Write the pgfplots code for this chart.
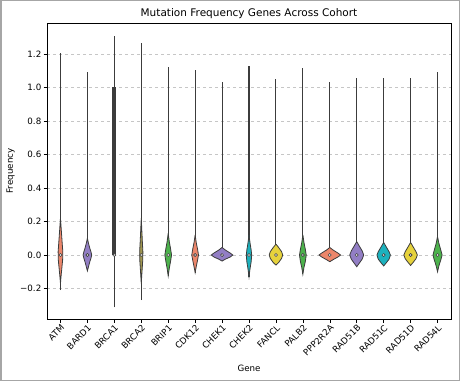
\documentclass[border=0pt]{standalone}
\usepackage{fontspec}
\setmainfont{DejaVu Sans}
\usepackage{pgfplots}
\pgfplotsset{compat=1.18}
\definecolor{csal}{RGB}{236,134,106}
\definecolor{cpur}{RGB}{146,126,196}
\definecolor{colive}{RGB}{160,150,80}
\definecolor{cgreen}{RGB}{76,178,76}
\definecolor{cteal}{RGB}{28,178,190}
\definecolor{cyel}{RGB}{230,210,60}
\definecolor{dline}{RGB}{60,60,60}
\begin{document}
\begin{tikzpicture}
\useasboundingbox (0pt,0pt) rectangle (460pt,381pt);
\draw[gray!70, line width=1.5pt] (0.75pt,0.75pt) rectangle (459.25pt,380.25pt);
\begin{axis}[
  at={(47pt,62pt)}, anchor=south west,
  scale only axis, width=404pt, height=296pt,
  xmin=-0.5, xmax=14.5, ymin=-0.382, ymax=1.385,
  xtick={0,...,14},
  xticklabels={ATM,BARD1,BRCA1,BRCA2,BRIP1,CDK12,CHEK1,CHEK2,FANCL,PALB2,PPP2R2A,RAD51B,RAD51C,RAD51D,RAD54L},
  ytick={-0.2,0,0.2,0.4,0.6,0.8,1.0,1.2},
  yticklabels={−0.2,0.0,0.2,0.4,0.6,0.8,1.0,1.2},
  tick label style={font=\fontsize{8.7}{10}\selectfont},
  xticklabel style={rotate=45, anchor=north east, inner sep=1pt},
  yticklabel style={inner sep=2pt},
  tick align=outside, major tick length=3.5pt,
  tick style={black, line width=0.6pt},
  xtick pos=bottom, ytick pos=left,
  axis line style={black, line width=0.6pt},
  ymajorgrids, grid style={dashed, gray!45, line width=0.5pt},
  title={Mutation Frequency Genes Across Cohort},
  title style={font=\fontsize{10.5}{12}\selectfont, at={(0.5,1)}, anchor=south, yshift=-5pt},
  xlabel={Gene}, ylabel={Frequency},
  label style={font=\fontsize{8.7}{10}\selectfont},
  xlabel style={at={(axis description cs:0.5,-0.166)}, anchor=center},
  ylabel style={at={(axis description cs:-0.09,0.5)}, anchor=center},
  clip=false,
]
% tails / whiskers
\addplot[dline, line width=1.1pt] coordinates {(0,-0.209) (0,1.208)};
\addplot[dline, line width=1.1pt] coordinates {(1,-0.096) (1,1.094)};
\addplot[dline, line width=1.1pt] coordinates {(2,-0.312) (2,1.309)};
\addplot[dline, line width=1.1pt] coordinates {(3,-0.269) (3,1.264)};
\addplot[dline, line width=1.1pt] coordinates {(4,-0.125) (4,1.124)};
\addplot[dline, line width=1.1pt] coordinates {(5,-0.105) (5,1.104)};
\addplot[dline, line width=1.1pt] coordinates {(6,-0.036) (6,1.035)};
\addplot[dline, line width=1.1pt] coordinates {(7,-0.129) (7,1.128)};
\addplot[dline, line width=1.1pt] coordinates {(8,-0.05) (8,1.049)};
\addplot[dline, line width=1.1pt] coordinates {(9,-0.115) (9,1.114)};
\addplot[dline, line width=1.1pt] coordinates {(10,-0.036) (10,1.035)};
\addplot[dline, line width=1.1pt] coordinates {(11,-0.064) (11,1.059)};
\addplot[dline, line width=1.1pt] coordinates {(12,-0.06) (12,1.059)};
\addplot[dline, line width=1.1pt] coordinates {(13,-0.064) (13,1.059)};
\addplot[dline, line width=1.1pt] coordinates {(14,-0.096) (14,1.094)};
% violin bodies
\addplot[fill=csal, draw=dline, line width=0.8pt] coordinates {(0,0.22) (0.03,0.15) (0.06,0.08) (0.087,0.02) (0.08,-0.03) (0.05,-0.08) (0.02,-0.13) (0,-0.17) (-0.02,-0.13) (-0.05,-0.08) (-0.08,-0.03) (-0.087,0.02) (-0.06,0.08) (-0.03,0.15) (0,0.22)};
\addplot[fill=cpur, draw=dline, line width=0.8pt] coordinates {(1,0.10) (1.04,0.07) (1.09,0.04) (1.13,0.02) (1.16,0) (1.13,-0.02) (1.09,-0.04) (1.04,-0.07) (1,-0.095) (0.96,-0.07) (0.91,-0.04) (0.87,-0.02) (0.84,0) (0.87,0.02) (0.91,0.04) (0.96,0.07) (1,0.10)};
\addplot[fill=colive, draw=dline, line width=0.8pt] coordinates {(3,0.22) (3.02,0.15) (3.04,0.08) (3.06,0.02) (3.055,-0.03) (3.035,-0.08) (3.015,-0.13) (3,-0.17) (2.985,-0.13) (2.965,-0.08) (2.945,-0.03) (2.94,0.02) (2.96,0.08) (2.98,0.15) (3,0.22)};
\addplot[fill=cgreen, draw=dline, line width=0.8pt] coordinates {(4,0.13) (4.04,0.08) (4.085,0.04) (4.125,0) (4.085,-0.04) (4.04,-0.08) (4,-0.125) (3.96,-0.08) (3.915,-0.04) (3.875,0) (3.915,0.04) (3.96,0.08) (4,0.13)};
\addplot[fill=csal, draw=dline, line width=0.8pt] coordinates {(5,0.12) (5.04,0.075) (5.09,0.035) (5.125,0) (5.085,-0.035) (5.04,-0.07) (5,-0.105) (4.96,-0.07) (4.915,-0.035) (4.875,0) (4.91,0.035) (4.96,0.075) (5,0.12)};
\addplot[fill=cpur, draw=dline, line width=0.8pt] coordinates {(6,0.045) (6.12,0.03) (6.3,0.012) (6.4,0) (6.3,-0.012) (6.12,-0.025) (6,-0.036) (5.88,-0.025) (5.7,-0.012) (5.6,0) (5.7,0.012) (5.88,0.03) (6,0.045)};
\addplot[fill=cteal, draw=dline, line width=0.8pt] coordinates {(7,0.12) (7.04,0.07) (7.08,0.03) (7.1,0) (7.08,-0.04) (7.04,-0.08) (7,-0.13) (6.96,-0.08) (6.92,-0.04) (6.9,0) (6.92,0.03) (6.96,0.07) (7,0.12)};
\addplot[fill=cyel, draw=dline, line width=0.8pt] coordinates {(8,0.065) (8.1,0.045) (8.21,0.02) (8.25,0) (8.21,-0.02) (8.1,-0.045) (8,-0.06) (7.9,-0.045) (7.79,-0.02) (7.75,0) (7.79,0.02) (7.9,0.045) (8,0.065)};
\addplot[fill=cgreen, draw=dline, line width=0.8pt] coordinates {(9,0.12) (9.04,0.075) (9.09,0.035) (9.125,0) (9.09,-0.04) (9.04,-0.075) (9,-0.115) (8.96,-0.075) (8.91,-0.04) (8.875,0) (8.91,0.035) (8.96,0.075) (9,0.12)};
\addplot[fill=csal, draw=dline, line width=0.8pt] coordinates {(10,0.045) (10.12,0.03) (10.3,0.012) (10.4,0) (10.3,-0.012) (10.12,-0.028) (10,-0.04) (9.88,-0.028) (9.7,-0.012) (9.6,0) (9.7,0.012) (9.88,0.03) (10,0.045)};
\addplot[fill=cpur, draw=dline, line width=0.8pt] coordinates {(11,0.08) (11.09,0.055) (11.2,0.025) (11.26,0) (11.2,-0.025) (11.09,-0.05) (11,-0.07) (10.91,-0.05) (10.8,-0.025) (10.74,0) (10.8,0.025) (10.91,0.055) (11,0.08)};
\addplot[fill=cteal, draw=dline, line width=0.8pt] coordinates {(12,0.075) (12.09,0.05) (12.2,0.02) (12.25,0) (12.2,-0.025) (12.09,-0.048) (12,-0.065) (11.91,-0.048) (11.8,-0.025) (11.75,0) (11.8,0.02) (11.91,0.05) (12,0.075)};
\addplot[fill=cyel, draw=dline, line width=0.8pt] coordinates {(13,0.075) (13.09,0.05) (13.2,0.02) (13.25,0) (13.2,-0.022) (13.09,-0.045) (13,-0.062) (12.91,-0.045) (12.8,-0.022) (12.75,0) (12.8,0.02) (12.91,0.05) (13,0.075)};
\addplot[fill=cgreen, draw=dline, line width=0.8pt] coordinates {(14,0.11) (14.05,0.07) (14.12,0.03) (14.17,0) (14.12,-0.03) (14.05,-0.065) (14,-0.1) (13.95,-0.065) (13.88,-0.03) (13.83,0) (13.88,0.03) (13.95,0.07) (14,0.11)};
% BRCA1 inner box
\addplot[dline, line width=4pt] coordinates {(2,0) (2,1.005)};
% medians
\addplot[only marks, mark=*, mark size=1.5pt, mark options={fill=white, draw=dline, line width=0.6pt}] coordinates {(0,0) (1,0) (2,0) (3,0) (4,0) (5,0) (6,0) (7,0) (8,0) (9,0) (10,0) (11,0) (12,0) (13,0) (14,0)};
\end{axis}
\end{tikzpicture}
\end{document}
